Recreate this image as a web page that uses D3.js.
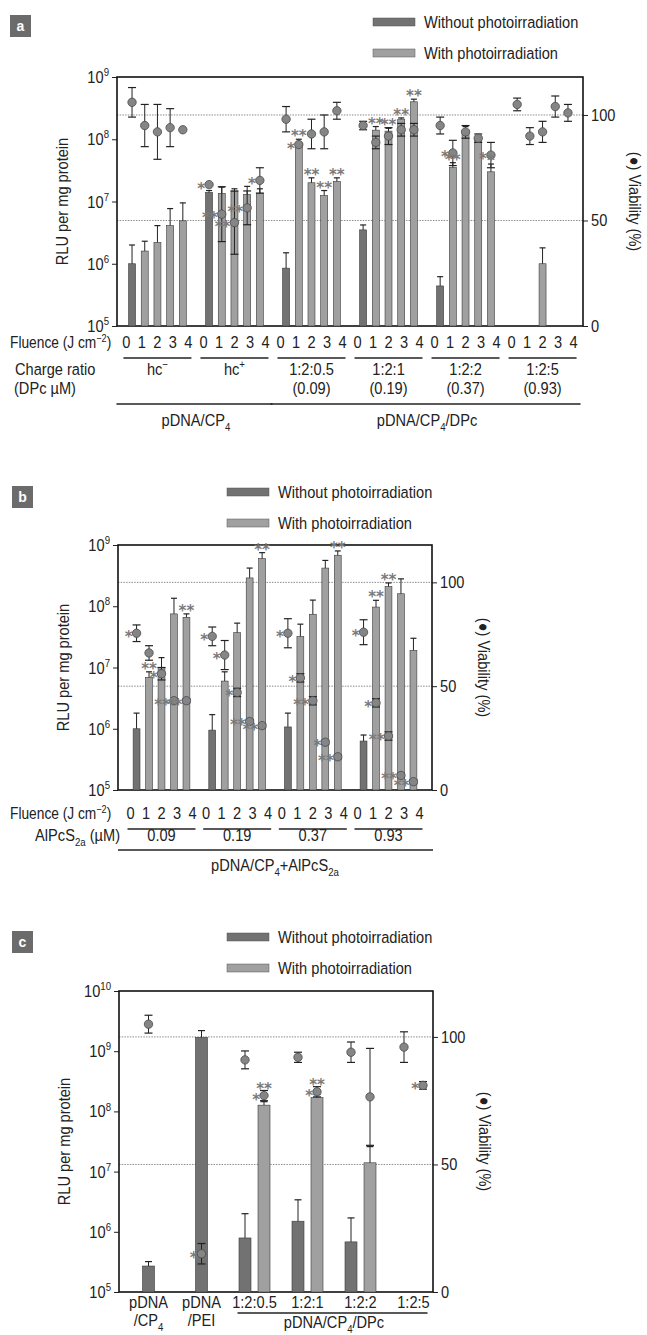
<!DOCTYPE html>
<html>
<head>
<meta charset="utf-8">
<script src="https://cdn.jsdelivr.net/npm/d3@7"></script>
<style>
  body { margin: 0; background: #fff; }
  svg text { font-family: "Liberation Sans", Arial, sans-serif; fill: #222; }
  .star { font-family: "DejaVu Sans", sans-serif !important; fill: #7a7a7a !important; font-weight: bold; }
</style>
</head>
<body>
<svg id="fig" width="647" height="1335"></svg>
<script>
// ---------- data ----------
const fluences = [0, 1, 2, 3, 4];
const vMax = 118;              // top of the viability axis
const legendLabels = ["Without photoirradiation", "With photoirradiation"];

// panel a : pDNA/CP4 and pDNA/CP4/DPc
const groupsA = ["hc^{−}", "hc^{+}", "1:2:0.5", "1:2:1", "1:2:2", "1:2:5"];
const dpcA = ["", "", "(0.09)", "(0.19)", "(0.37)", "(0.93)"];
const rluA = [
  [1.0e6, 1.6e6, 2.2e6, 4.1e6, 4.9e6],
  [1.4e7, 1.35e7, 1.45e7, 1.3e7, 1.35e7],
  [8.5e5, 8.5e7, 2.0e7, 1.25e7, 2.1e7],
  [3.5e6, 1.4e8, 1.35e8, 2.1e8, 4.0e8],
  [4.4e5, 3.5e7, 1.4e8, 1.0e8, 3.0e7],
  [null, null, 1.0e6, null, null]
];
const rluErrA = [
  [2.0e6, 2.3e6, 4.1e6, 7.7e6, 9.5e6],
  [1.5e7, 1.7e7, 1.6e7, 1.75e7, 1.6e7],
  [1.5e6, 1.0e8, 2.4e7, 1.5e7, 2.4e7],
  [4.2e6, 1.6e8, 1.5e8, 2.2e8, 4.4e8],
  [6.2e5, 4.2e7, 1.6e8, 1.1e8, 4.0e7],
  [null, null, 1.8e6, null, null]
];
const viaA = [
  [106, 95, 92, 94, 93],
  [67, 53, 49, 56, 69],
  [98, 86, 91, 92, 102],
  [95, 87, 90, 93, 93],
  [95, 82, 92, 89, 81],
  [105, 90, 92, 104, 101]
];
const viaErrA = [
  [7, 10, 13, 9, 0],
  [0, 13, 15, 8, 6],
  [6, 0, 7, 8, 4],
  [2, 3, 4, 3, 3],
  [4, 6, 3, 2, 6],
  [3, 4, 5, 5, 4]
];
// [group, fluence, where, mark]
const notesA = [
  [1, 0, "via", "*"], [1, 1, "via", "**"], [1, 2, "via", "**"], [1, 3, "via", "**"], [1, 4, "via", "*"],
  [2, 1, "bar", "**"], [2, 1, "via", "*"], [2, 2, "bar", "**"], [2, 3, "bar", "**"], [2, 4, "bar", "**"],
  [3, 1, "bar", "**"], [3, 2, "bar", "**"], [3, 3, "bar", "**"], [3, 4, "bar", "**"],
  [4, 1, "bar", "**"], [4, 1, "via", "*"], [4, 4, "bar", "*"], [4, 4, "via", "*"]
];

// panel b : pDNA/CP4 + AlPcS2a
const groupsB = ["0.09", "0.19", "0.37", "0.93"];
const rluB = [
  [1.0e6, 6.9e6, 1.0e7, 7.5e7, 6.6e7],
  [9.5e5, 6.0e6, 3.7e7, 2.9e8, 6.0e8],
  [1.07e6, 3.2e7, 7.4e7, 4.2e8, 6.8e8],
  [6.3e5, 9.7e7, 2.1e8, 1.6e8, 1.9e7]
];
const rluErrB = [
  [1.8e6, 8.5e6, 1.45e7, 1.35e8, 7.5e7],
  [1.7e6, 8.5e6, 5.3e7, 4.2e8, 7.5e8],
  [1.8e6, 5.1e7, 1.26e8, 5.6e8, 8.0e8],
  [7.9e5, 1.25e8, 2.4e8, 2.8e8, 3.0e7]
];
const viaB = [
  [75.5, 66, 56, 43, 43],
  [74, 65, 47, 33, 31],
  [75.5, 54, 43, 23, 16],
  [76, 42, 26, 7, 4]
];
const viaErrB = [
  [4, 3.5, 3, 1, 1],
  [4.5, 7, 2, 1, 1],
  [7, 2, 2, 1, 1],
  [6, 2, 2, 1, 1]
];
const notesB = [
  [0, 0, "via", "*"], [0, 1, "bar", "**"], [0, 2, "via", "*"], [0, 3, "via", "**"], [0, 4, "bar", "**"], [0, 4, "via", "**"],
  [1, 0, "via", "*"], [1, 1, "via", "*"], [1, 2, "via", "*"], [1, 3, "via", "**"], [1, 4, "bar", "**"], [1, 4, "via", "**"],
  [2, 0, "via", "*"], [2, 1, "via", "*"], [2, 2, "via", "**"], [2, 3, "via", "*"], [2, 4, "bar", "**"], [2, 4, "via", "**"],
  [3, 0, "via", "*"], [3, 1, "bar", "**"], [3, 1, "via", "*"], [3, 2, "bar", "**"], [3, 2, "via", "**"], [3, 3, "via", "**"], [3, 4, "via", "**"]
];

// panel c : carriers compared
const catsC = ["pDNA/CP4", "pDNA/PEI", "1:2:0.5", "1:2:1", "1:2:2", "1:2:5"];
const catLine1C = ["pDNA", "pDNA", "1:2:0.5", "1:2:1", "1:2:2", "1:2:5"];
const catLine2C = ["/CP_{4}", "/PEI", "", "", "", ""];
const rluDarkC = [2.7e5, 1.7e9, 7.9e5, 1.5e6, 6.8e5, null];
const rluDarkErrC = [3.2e5, 2.2e9, 2.0e6, 3.4e6, 1.7e6, null];
const rluLightC = [null, null, 1.27e8, 1.7e8, 1.4e7, null];
const rluLightErrC = [null, null, 1.45e8, 1.9e8, 2.6e7, null];
const viaDarkC = [105, 15, 91, 92, 94, 96];
const viaDarkErrC = [3.5, 4, 3.5, 2, 4, 6];
const viaLightC = [null, null, 77, 78.5, 76.5, 81];
const viaLightErrC = [null, null, 2, 2, 19, 1.5];
const notesC = [
  [1, "dark", "via", "*"], [2, "light", "via", "*"], [2, "light", "top", "**"],
  [3, "light", "via", "*"], [3, "light", "top", "**"], [5, "light", "via", "*"]
];

// ---------- helpers ----------
const svg = d3.select("#fig");
const darkFill = "#727272", lightFill = "#a0a0a0";
const squeeze = 0.86;   // the original uses a condensed face

// text with ^{..} superscripts and _{..} subscripts
function rich(sel, str, size) {
  const parts = str.split(/(\^\{[^}]*\}|_\{[^}]*\})/).filter(s => s);
  let shift = 0;
  parts.forEach(p => {
    let txt = p, target = 0, small = false;
    if (p.startsWith("^{")) { txt = p.slice(2, -1); target = -0.4 * size; small = true; }
    else if (p.startsWith("_{")) { txt = p.slice(2, -1); target = 0.28 * size; small = true; }
    const t = sel.append("tspan").attr("dy", target - shift).text(txt);
    if (small) t.style("font-size", (0.66 * size) + "px");
    shift = target;
  });
  return sel;
}

function label(x, y, str, size, anchor, rot) {
  const t = svg.append("text")
    .attr("transform", `translate(${x},${y})${rot ? ` rotate(${rot})` : ""} scale(${squeeze},1)`)
    .attr("text-anchor", anchor || "start").style("font-size", size + "px");
  return rich(t, str, size);
}

function panelLetter(x, y, letter) {
  svg.append("rect").attr("x", x).attr("y", y).attr("width", 21).attr("height", 22).attr("fill", "#6b6b6b");
  svg.append("text").attr("x", x + 10.5).attr("y", y + 16).attr("text-anchor", "middle")
    .style("font-size", "14px").style("font-weight", "bold").style("fill", "#fff").text(letter);
}

function legend(x, yTop) {
  [darkFill, lightFill].forEach((c, i) => {
    const yy = yTop + i * 31;
    svg.append("rect").attr("x", x).attr("y", yy - 4).attr("width", 42).attr("height", 8)
      .attr("fill", c).attr("stroke", "#555").attr("stroke-width", 0.5);
    label(x + 51, yy + 6, legendLabels[i], 17);
  });
}

// frame, gridlines, both axes and their titles
function frame(p, y, v, decades) {
  [100, 50].forEach(g => {
    svg.append("line").attr("x1", p.left).attr("x2", p.right).attr("y1", v(g)).attr("y2", v(g))
      .attr("stroke", "#8c8c8c").attr("stroke-width", 1).attr("stroke-dasharray", "1.5,1.2");
  });
  const la = svg.append("g").attr("transform", `translate(${p.left},0)`)
    .call(d3.axisLeft(y).tickValues(decades).tickSize(5).tickFormat(""));
  la.select(".domain").remove();
  la.selectAll("line").attr("stroke", "#222");
  decades.forEach(d => {
    label(p.left - 8, y(d) + 6, "10^{" + Math.round(Math.log10(d)) + "}", 17, "end");
  });
  const vt = [0, 50, 100];
  const ra = svg.append("g").attr("transform", `translate(${p.right},0)`)
    .call(d3.axisRight(v).tickValues(vt).tickSize(5).tickFormat(""));
  ra.select(".domain").remove();
  ra.selectAll("line").attr("stroke", "#222");
  vt.forEach(t => label(p.right + 8, v(t) + 6, String(t), 17));
  svg.append("rect").attr("x", p.left).attr("y", p.top)
    .attr("width", p.right - p.left).attr("height", p.bottom - p.top)
    .attr("fill", "none").attr("stroke", "#111").attr("stroke-width", 1.6);
  const mid = (p.top + p.bottom) / 2;
  label(p.left - 49, mid, "RLU per mg protein", 17, "middle", -90);
  label(p.right + 46, mid, "(●) Viability (%)", 17, "middle", 90);
}

function errUp(g, x, yFrom, yTo, cap) {
  g.append("line").attr("x1", x).attr("x2", x).attr("y1", yFrom).attr("y2", yTo).attr("stroke", "#222").attr("stroke-width", 1);
  g.append("line").attr("x1", x - cap).attr("x2", x + cap).attr("y1", yTo).attr("y2", yTo).attr("stroke", "#222").attr("stroke-width", 1.2);
}

function viabilityPoint(g, x, v, val, err) {
  if (err > 0) {
    const y1 = v(val - err), y2 = v(val + err);
    g.append("line").attr("x1", x).attr("x2", x).attr("y1", y1).attr("y2", y2).attr("stroke", "#222").attr("stroke-width", 1);
    [y1, y2].forEach(yy => g.append("line").attr("x1", x - 4).attr("x2", x + 4).attr("y1", yy).attr("y2", yy)
      .attr("stroke", "#222").attr("stroke-width", 1.2));
  }
  g.append("circle").attr("cx", x).attr("cy", v(val)).attr("r", 4.2)
    .attr("fill", "#858585").attr("stroke", "#4a4a4a").attr("stroke-width", 0.8);
}

function star(x, yCenter, mark, anchor) {
  svg.append("text").attr("class", "star").attr("x", x).attr("y", yCenter + 9)
    .attr("text-anchor", anchor).style("font-size", "15px").text(mark);
}

// ---------- grouped panels (a, b) ----------
function groupedPanel(p) {
  const x0 = d3.scaleBand().domain(d3.range(p.groups.length)).range([p.left, p.right])
    .paddingInner(0.25).paddingOuter(p.outer);
  const x1 = d3.scaleBand().domain(fluences).range([0, x0.bandwidth()]).paddingInner(0.45);
  const y = d3.scaleLog().domain([1e5, 1e9]).range([p.bottom, p.top]);
  const v = d3.scaleLinear().domain([0, vMax]).range([p.bottom, p.top]);
  const cx = (gi, f) => x0(gi) + x1(f) + x1.bandwidth() / 2;
  const gc = gi => x0(gi) + x0.bandwidth() / 2;

  frame(p, y, v, [1e5, 1e6, 1e7, 1e8, 1e9]);

  const records = [];
  p.rlu.forEach((row, gi) => row.forEach((val, f) => records.push({ gi, f, val, err: p.err[gi][f] })));

  const bars = svg.append("g");
  bars.selectAll("rect").data(records.filter(d => d.val != null)).enter().append("rect")
    .attr("x", d => x0(d.gi) + x1(d.f))
    .attr("width", x1.bandwidth())
    .attr("y", d => y(d.val))
    .attr("height", d => p.bottom - y(d.val))
    .attr("fill", d => d.f === 0 ? darkFill : lightFill)
    .attr("stroke", "#3a3a3a").attr("stroke-width", 0.6);
  records.filter(d => d.val != null).forEach(d => errUp(bars, cx(d.gi, d.f), y(d.val), y(d.err), 3));

  const pts = svg.append("g");
  p.via.forEach((row, gi) => row.forEach((val, f) => viabilityPoint(pts, cx(gi, f), v, val, p.viaErr[gi][f])));

  p.notes.forEach(([gi, f, where, mark]) => {
    if (where === "bar") star(cx(gi, f), y(p.err[gi][f]) - 7, mark, "middle");
    else star(cx(gi, f) - 4, v(p.via[gi][f]), mark, "end");
  });

  // fluence row
  label(10, p.fluY, "Fluence (J cm^{−2})", 16);
  p.groups.forEach((g, gi) => {
    fluences.forEach(f => label(gc(gi) + (f - 2) * 15.5, p.fluY, String(f), 17, "middle"));
    svg.append("line").attr("x1", gc(gi) - 34).attr("x2", gc(gi) + 34)
      .attr("y1", p.fluY + 10).attr("y2", p.fluY + 10).attr("stroke", "#222").attr("stroke-width", 1.5);
  });
  return { gc };
}

// ---------- panel a ----------
panelLetter(10, 15, "a");
legend(373, 22);
const pa = {
  left: 117, right: 583, top: 77, bottom: 326, outer: 0.15,
  groups: groupsA, rlu: rluA, err: rluErrA, via: viaA, viaErr: viaErrA, notes: notesA, fluY: 348
};
const ra = groupedPanel(pa);
label(15, 375, "Charge ratio", 17);
label(14, 394, "(DPc µM)", 17);
groupsA.forEach((g, gi) => {
  label(ra.gc(gi), 375, g, 17, "middle");
  label(ra.gc(gi), 394, dpcA[gi], 17, "middle");
});
[[0, 1, "pDNA/CP_{4}"], [2, 5, "pDNA/CP_{4}/DPc"]].forEach(([a, b, t]) => {
  svg.append("line").attr("x1", ra.gc(a) - 41).attr("x2", ra.gc(b) + 38).attr("y1", 404).attr("y2", 404)
    .attr("stroke", "#222").attr("stroke-width", 1.5);
  label((ra.gc(a) + ra.gc(b)) / 2, 426, t, 17, "middle");
});

// ---------- panel b ----------
panelLetter(12, 486, "b");
legend(227, 492);
const pb = {
  left: 118, right: 432, top: 545, bottom: 790, outer: 0.2,
  groups: groupsB, rlu: rluB, err: rluErrB, via: viaB, viaErr: viaErrB, notes: notesB, fluY: 819
};
const rb = groupedPanel(pb);
label(120, 841, "AlPcS_{2a} (µM)", 17, "end");
groupsB.forEach((g, gi) => label(rb.gc(gi), 841, g, 17, "middle"));
svg.append("line").attr("x1", pb.left).attr("x2", pb.right + 1).attr("y1", 850).attr("y2", 850)
  .attr("stroke", "#222").attr("stroke-width", 1.5);
label((pb.left + pb.right) / 2, 871, "pDNA/CP_{4}+AlPcS_{2a}", 17, "middle");

// ---------- panel c ----------
panelLetter(12, 931, "c");
legend(227, 937);
const pc = { left: 119, right: 433, top: 991, bottom: 1292 };
const xc = d3.scaleBand().domain(catsC).range([pc.left + 3, pc.right + 7]);
const yc = d3.scaleLog().domain([1e5, 1e10]).range([pc.bottom, pc.top]);
const vc = d3.scaleLinear().domain([0, vMax]).range([pc.bottom, pc.top]);
frame(pc, yc, vc, [1e5, 1e6, 1e7, 1e8, 1e9, 1e10]);

const cc = i => xc(catsC[i]) + xc.bandwidth() / 2;
const paired = i => rluLightC[i] != null || viaLightC[i] != null;
const posC = (i, kind) => paired(i) ? cc(i) + (kind === "dark" ? -9.5 : 9.5) : cc(i);
const barW = 12;

const barsC = svg.append("g");
const recC = [];
catsC.forEach((c, i) => {
  if (rluDarkC[i] != null) recC.push({ i, kind: "dark", val: rluDarkC[i], err: rluDarkErrC[i] });
  if (rluLightC[i] != null) recC.push({ i, kind: "light", val: rluLightC[i], err: rluLightErrC[i] });
});
barsC.selectAll("rect").data(recC).enter().append("rect")
  .attr("x", d => posC(d.i, d.kind) - barW / 2)
  .attr("width", barW)
  .attr("y", d => yc(d.val))
  .attr("height", d => pc.bottom - yc(d.val))
  .attr("fill", d => d.kind === "dark" ? darkFill : lightFill)
  .attr("stroke", "#3a3a3a").attr("stroke-width", 0.6);
recC.forEach(d => errUp(barsC, posC(d.i, d.kind), yc(d.val), yc(d.err), 3.5));

const ptsC = svg.append("g");
catsC.forEach((c, i) => {
  viabilityPoint(ptsC, posC(i, "dark"), vc, viaDarkC[i], viaDarkErrC[i]);
  if (viaLightC[i] != null) viabilityPoint(ptsC, posC(i, "light"), vc, viaLightC[i], viaLightErrC[i]);
});
notesC.forEach(([i, kind, where, mark]) => {
  const val = kind === "dark" ? viaDarkC[i] : viaLightC[i];
  if (where === "top") star(posC(i, kind), vc(val) - 11, mark, "middle");
  else star(posC(i, kind) - 4, vc(val), mark, "end");
});

catsC.forEach((c, i) => {
  label(cc(i), 1308, catLine1C[i], 17, "middle");
  if (catLine2C[i]) label(cc(i), 1326, catLine2C[i], 17, "middle");
});
svg.append("line").attr("x1", cc(2) - 17).attr("x2", cc(5) + 14).attr("y1", 1313).attr("y2", 1313)
  .attr("stroke", "#222").attr("stroke-width", 1.5);
label((cc(2) + cc(5)) / 2, 1328, "pDNA/CP_{4}/DPc", 17, "middle");
</script>
</body>
</html>
